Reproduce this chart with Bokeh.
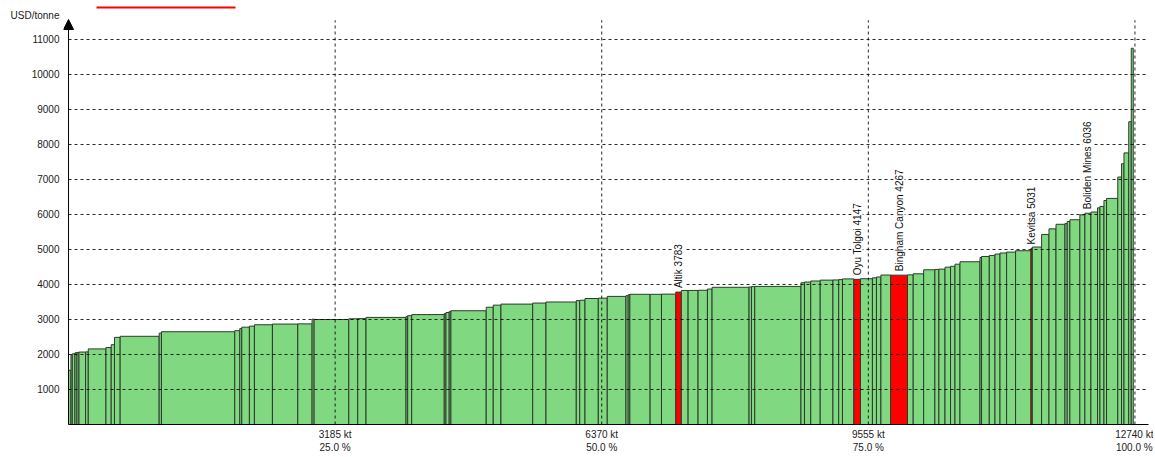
import numpy as np
from bokeh.plotting import figure
from bokeh.models import ColumnDataSource, FixedTicker, Arrow, NormalHead, Range1d
from bokeh.core.properties import value
from bokeh.embed import file_html
from bokeh.resources import INLINE

# ---- data ----
widths_kt = [29, 16, 32, 24, 24, 79, 32, 211, 63, 39,
             68, 466, 27, 876, 60, 24, 91, 60, 215, 303,
             171, 24, 414, 107, 99, 478, 20, 48, 389, 20,
             39, 20, 422, 84, 92, 379, 159, 362, 41, 63,
             159, 107, 223, 27, 20, 242, 136, 171, 66, 81,
             119, 112, 55, 442, 29, 39, 552, 42, 75, 113,
             152, 69, 45, 136, 79, 143, 48, 53, 117, 201,
             68, 125, 134, 48, 73, 66, 53, 60, 239, 19,
             92, 68, 60, 79, 107, 184, 16, 111, 88, 84,
             107, 27, 32, 119, 60, 72, 79, 29, 48, 31,
             134, 45, 29, 57, 30, 24]
costs_usd = [1550, 1990, 2020, 2050, 2060, 2070, 2075, 2160, 2200, 2280,
             2490, 2520, 2610, 2650, 2680, 2740, 2780, 2810, 2850, 2870,
             2875, 3010, 3000, 3020, 3025, 3060, 3080, 3110, 3140, 3170,
             3200, 3230, 3250, 3350, 3410, 3440, 3470, 3500, 3540, 3550,
             3600, 3610, 3660, 3680, 3710, 3720, 3720, 3725, 3783, 3830,
             3830, 3835, 3870, 3920, 3930, 3940, 3945, 4050, 4070, 4100,
             4125, 4130, 4140, 4160, 4147, 4165, 4190, 4215, 4270, 4267,
             4275, 4305, 4420, 4430, 4440, 4495, 4520, 4580, 4650, 4770,
             4800, 4830, 4870, 4900, 4925, 4965, 5031, 5070, 5430, 5590,
             5720, 5740, 5800, 5850, 5990, 6036, 6070, 6190, 6230, 6400,
             6460, 7070, 7450, 7760, 8650, 10750]
highlight_names = ["Altik", "Oyu Tolgoi", "Bingham Canyon", "Kevitsa", "Boliden Mines"]
highlight_bars = [48, 64, 69, 86, 95]
highlight_red = [True, True, True, True, False]
x_ticks_kt = [3185, 6370, 9555, 12740]
y_ticks = [1000, 2000, 3000, 4000, 5000, 6000, 7000, 8000, 9000, 10000, 11000]
y_unit_label = "USD/tonne"

FONT = "Liberation Sans"
GREEN = "#80d880"
RED = "#ff0000"

w = np.array(widths_kt, dtype=float)
right = np.cumsum(w)
left = right - w
colors = [GREEN] * len(w)
for i, is_red in zip(highlight_bars, highlight_red):
    if is_red:
        colors[i] = RED

bars = ColumnDataSource(dict(left=left, right=right, top=costs_usd, color=colors))

X_START = -60          # small room left of the axis so the arrow head is not clipped
X_END = 12902          # frame right edge (kt)
Y_END = 12114          # frame top edge (USD/t)
Y_ARROW = 11571        # tip of the y-axis arrow
Y_UNIT = 11686         # height of the unit caption
Y_GRID_TOP = 11550     # top of the vertical grid lines

p = figure(width=1153, height=455, output_backend="svg", toolbar_location=None,
           x_range=Range1d(X_START, X_END), y_range=Range1d(0, Y_END),
           min_border_left=63, min_border_right=5, min_border_top=0, min_border_bottom=31)
p.outline_line_color = None
p.background_fill_color = "white"

p.quad(left="left", right="right", bottom=0, top="top", source=bars,
       fill_color="color", line_color="#2d3a2d", line_width=1)

GRID = dict(line_color="black", line_dash="3 3", line_alpha=0.85, line_width=1)
# vertical grid lines at the x ticks
vg = p.segment(x0=x_ticks_kt, y0=[0] * len(x_ticks_kt), x1=x_ticks_kt,
               y1=[Y_GRID_TOP] * len(x_ticks_kt), **GRID)
vg.level = "guide"
# horizontal grid lines at the y ticks
hg = p.segment(x0=[0] * len(y_ticks), y0=y_ticks, x1=[X_END] * len(y_ticks), y1=y_ticks, **GRID)
hg.level = "guide"

# labels above highlighted bars
lab = ColumnDataSource(dict(
    x=[(left[i] + right[i]) / 2 for i in highlight_bars],
    y=[costs_usd[i] for i in highlight_bars],
    t=[f"{n}  {costs_usd[i]}" for n, i in zip(highlight_names, highlight_bars)],
))
tr = p.text(x="x", y="y", text="t", source=lab, angle=np.pi / 2,
            text_align="left", text_baseline="middle", y_offset=-4,
            text_font=value(FONT), text_font_size="10px", text_color="#111111",
            background_fill_color="white")
tr.level = "overlay"

# axes
p.xaxis.ticker = FixedTicker(ticks=x_ticks_kt)
p.xaxis.major_label_overrides = {t: f"{t} kt\n{t / x_ticks_kt[-1] * 100:.1f} %" for t in x_ticks_kt}
p.xaxis.bounds = (0, X_END)
p.yaxis.ticker = FixedTicker(ticks=y_ticks + [Y_UNIT])
p.yaxis.major_label_overrides = {Y_UNIT: y_unit_label}
for ax in (p.xaxis, p.yaxis):
    ax.major_tick_line_color = None
    ax.minor_tick_line_color = None
    ax.major_tick_out = 0
    ax.major_tick_in = 0
    ax.major_label_text_font = FONT
    ax.major_label_text_font_size = "10px"
    ax.major_label_text_color = "#222222"
p.xaxis.axis_line_color = "black"
p.xaxis.major_label_standoff = 4
p.yaxis.axis_line_color = None
p.yaxis.major_label_standoff = 4

p.xgrid.visible = False
p.ygrid.visible = False

# y axis line with arrow head
p.add_layout(Arrow(end=NormalHead(size=10, fill_color="black", line_color="black"),
                   x_start=0, y_start=0, x_end=0, y_end=Y_ARROW,
                   line_color="black", line_width=1))

# red legend swatch at the top
p.add_layout(Arrow(end=None, x_start=334, x_end=1995, y_start=11914, y_end=11914,
                   line_color=RED, line_width=2))

open("out.html", "w").write(file_html(p, INLINE))
